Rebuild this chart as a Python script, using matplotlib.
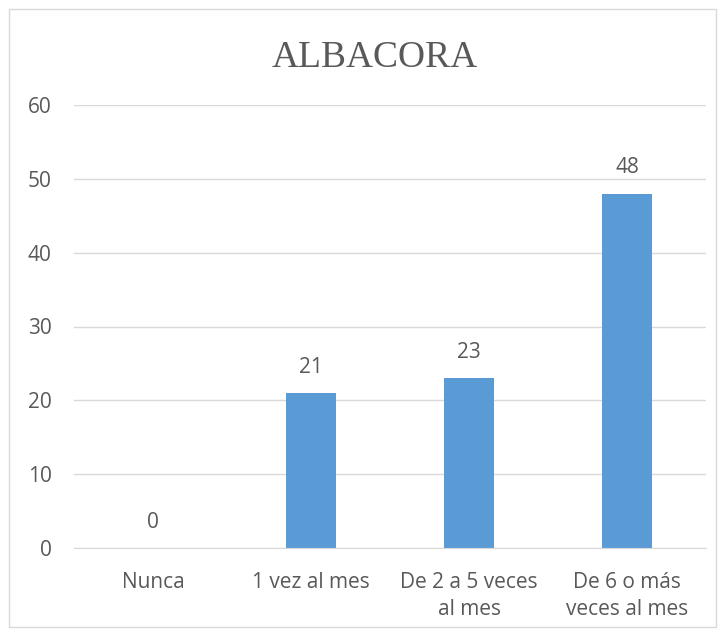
import numpy as np
import matplotlib.pyplot as plt
from matplotlib.patches import Rectangle

categorias = ["Nunca", "1 vez al mes", "De 2 a 5 veces\nal mes", "De 6 o más\nveces al mes"]
valores = [0, 21, 23, 48]
yticks = [0, 10, 20, 30, 40, 50, 60]

gris = "#595959"
azul = "#5B9BD5"

plt.rcParams['font.family'] = ['Open Sans', 'DejaVu Sans']

fig = plt.figure(figsize=(7.25, 6.32), dpi=100)
ax = fig.add_axes([74/725, 1 - 548/632, 632/725, 443/632])

x = np.arange(len(categorias))
ax.bar(x, valores, width=0.32, color=azul, zorder=3)

for xi, v in zip(x, valores):
    ax.text(xi, v + 3.5, str(v), ha="center", va="center", fontsize=15, color=gris)

ax.set_xlim(-0.5, len(categorias) - 0.5)
ax.set_ylim(0, 60)
ax.set_yticks(yticks)
ax.set_xticks(x)
ax.set_xticklabels(categorias, fontsize=15, color=gris, linespacing=1.4)
ax.tick_params(axis="y", labelsize=15, labelcolor=gris, length=0, pad=16)
ax.tick_params(axis="x", length=0, pad=17)
ax.yaxis.grid(True, color="#D9D9D9", linewidth=1, zorder=0)
for s in ["top", "right", "left"]:
    ax.spines[s].set_visible(False)
ax.spines["bottom"].set_color("#D9D9D9")
ax.spines["bottom"].set_zorder(4)

fig.text(0.517, 1 - 58/632, "ALBACORA", ha="center", va="center",
         fontsize=27, color=gris, family="Liberation Serif")

# borde del grafico
fig.patches.append(Rectangle((9/725, 5/632), 707/725, 618/632, transform=fig.transFigure,
                             fill=False, edgecolor="#D9D9D9", linewidth=1))

fig.savefig("out.png", dpi=100)
